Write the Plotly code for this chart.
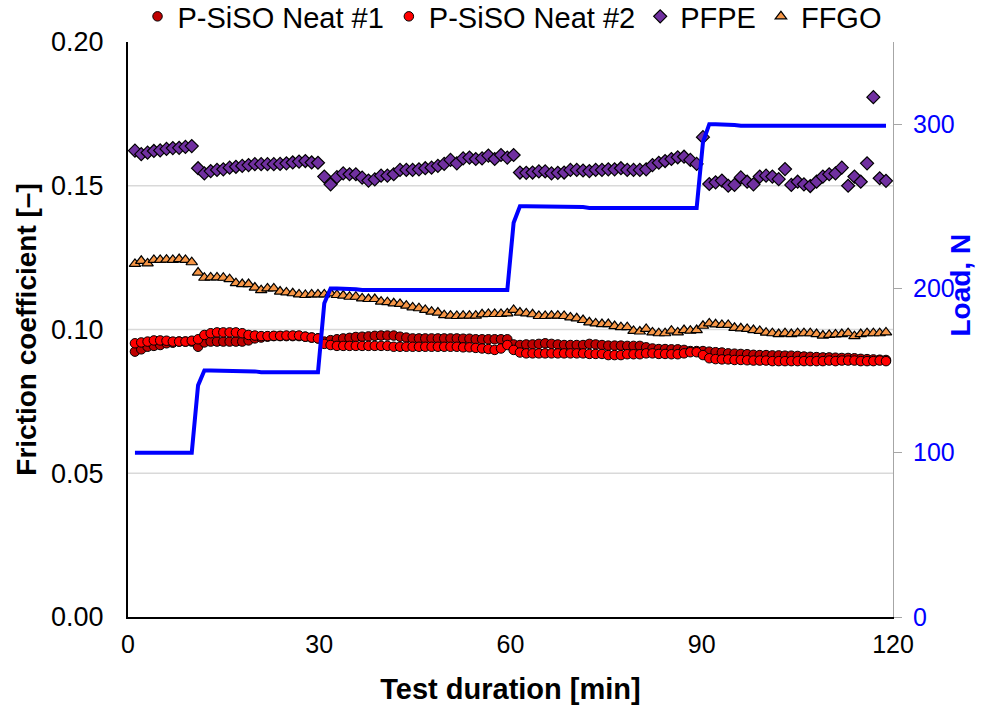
import plotly.graph_objects as go

# Sampling times (min) - one reading every ~0.99 min
time_min = [round(0.1 + 0.99 * k, 2) for k in range(1, 121)]

neat1 = [
    0.0923, 0.0931, 0.0940, 0.0943, 0.0946, 0.0952, 0.0954, 0.0958, 0.0958, 0.0958,
    0.0940, 0.0955, 0.0958, 0.0958, 0.0958, 0.0958, 0.0958, 0.0958, 0.0962, 0.0969,
    0.0972, 0.0975, 0.0977, 0.0977, 0.0977, 0.0977, 0.0977, 0.0975, 0.0972, 0.0969,
    0.0958, 0.0963, 0.0966, 0.0969, 0.0971, 0.0974, 0.0975, 0.0976, 0.0978, 0.0979,
    0.0979, 0.0979, 0.0975, 0.0972, 0.0969, 0.0969, 0.0969, 0.0969, 0.0969, 0.0969,
    0.0969, 0.0969, 0.0968, 0.0968, 0.0966, 0.0966, 0.0966, 0.0966, 0.0966, 0.0966,
    0.0948, 0.0946, 0.0948, 0.0948, 0.0950, 0.0952, 0.0950, 0.0948, 0.0946, 0.0946,
    0.0946, 0.0946, 0.0950, 0.0948, 0.0946, 0.0944, 0.0944, 0.0944, 0.0943, 0.0943,
    0.0943, 0.0938, 0.0934, 0.0932, 0.0932, 0.0931, 0.0931, 0.0929, 0.0925, 0.0925,
    0.0925, 0.0923, 0.0921, 0.0920, 0.0917, 0.0916, 0.0915, 0.0914, 0.0912, 0.0911,
    0.0911, 0.0910, 0.0910, 0.0909, 0.0909, 0.0908, 0.0906, 0.0905, 0.0904, 0.0903,
    0.0903, 0.0902, 0.0901, 0.0901, 0.0900, 0.0898, 0.0897, 0.0896, 0.0895, 0.0894,
]

neat2 = [
    0.0952, 0.0955, 0.0958, 0.0962, 0.0962, 0.0961, 0.0958, 0.0958, 0.0958, 0.0961,
    0.0966, 0.0981, 0.0987, 0.0990, 0.0990, 0.0990, 0.0990, 0.0987, 0.0981, 0.0979,
    0.0977, 0.0977, 0.0978, 0.0978, 0.0979, 0.0979, 0.0979, 0.0975, 0.0972, 0.0969,
    0.0950, 0.0946, 0.0943, 0.0943, 0.0943, 0.0943, 0.0943, 0.0943, 0.0943, 0.0943,
    0.0943, 0.0940, 0.0940, 0.0940, 0.0940, 0.0940, 0.0940, 0.0940, 0.0940, 0.0940,
    0.0940, 0.0940, 0.0938, 0.0938, 0.0936, 0.0934, 0.0932, 0.0929, 0.0934, 0.0946,
    0.0929, 0.0920, 0.0917, 0.0917, 0.0917, 0.0917, 0.0917, 0.0917, 0.0917, 0.0917,
    0.0917, 0.0917, 0.0915, 0.0915, 0.0915, 0.0911, 0.0911, 0.0911, 0.0914, 0.0914,
    0.0914, 0.0917, 0.0917, 0.0915, 0.0915, 0.0914, 0.0914, 0.0917, 0.0921, 0.0921,
    0.0911, 0.0900, 0.0897, 0.0896, 0.0896, 0.0894, 0.0894, 0.0893, 0.0892, 0.0892,
    0.0892, 0.0890, 0.0890, 0.0890, 0.0890, 0.0890, 0.0890, 0.0890, 0.0890, 0.0890,
    0.0892, 0.0890, 0.0892, 0.0892, 0.0892, 0.0890, 0.0890, 0.0890, 0.0892, 0.0890,
]

pfpe = [
    0.1622, 0.1610, 0.1615, 0.1621, 0.1623, 0.1628, 0.1631, 0.1632, 0.1635, 0.1638,
    0.1561, 0.1543, 0.1551, 0.1555, 0.1557, 0.1563, 0.1566, 0.1569, 0.1572, 0.1575,
    0.1575, 0.1575, 0.1575, 0.1576, 0.1578, 0.1581, 0.1584, 0.1586, 0.1581, 0.1580,
    0.1532, 0.1505, 0.1530, 0.1543, 0.1540, 0.1540, 0.1528, 0.1518, 0.1522, 0.1535,
    0.1535, 0.1540, 0.1555, 0.1555, 0.1555, 0.1557, 0.1561, 0.1563, 0.1569, 0.1576,
    0.1590, 0.1578, 0.1595, 0.1598, 0.1593, 0.1595, 0.1605, 0.1593, 0.1607, 0.1598,
    0.1607, 0.1546, 0.1545, 0.1546, 0.1550, 0.1550, 0.1543, 0.1545, 0.1546, 0.1555,
    0.1555, 0.1553, 0.1551, 0.1555, 0.1555, 0.1557, 0.1557, 0.1561, 0.1555, 0.1555,
    0.1555, 0.1557, 0.1572, 0.1580, 0.1586, 0.1593, 0.1599, 0.1601, 0.1590, 0.1576,
    0.1669, 0.1506, 0.1512, 0.1518, 0.1500, 0.1503, 0.1529, 0.1514, 0.1505, 0.1532,
    0.1535, 0.1532, 0.1523, 0.1558, 0.1503, 0.1514, 0.1505, 0.1499, 0.1514, 0.1532,
    0.1540, 0.1543, 0.1563, 0.1500, 0.1532, 0.1514, 0.1578, 0.1808, 0.1526, 0.1517,
]

ffgo = [
    0.1228, 0.1239, 0.1230, 0.1242, 0.1242, 0.1243, 0.1242, 0.1245, 0.1242, 0.1234,
    0.1198, 0.1180, 0.1181, 0.1181, 0.1180, 0.1175, 0.1161, 0.1158, 0.1158, 0.1146,
    0.1137, 0.1143, 0.1143, 0.1132, 0.1129, 0.1126, 0.1122, 0.1120, 0.1122, 0.1122,
    0.1122, 0.1126, 0.1120, 0.1118, 0.1114, 0.1114, 0.1108, 0.1106, 0.1106, 0.1097,
    0.1095, 0.1091, 0.1089, 0.1083, 0.1077, 0.1074, 0.1068, 0.1062, 0.1059, 0.1050,
    0.1048, 0.1047, 0.1048, 0.1048, 0.1048, 0.1053, 0.1054, 0.1054, 0.1054, 0.1056,
    0.1068, 0.1059, 0.1056, 0.1053, 0.1047, 0.1047, 0.1048, 0.1048, 0.1047, 0.1042,
    0.1039, 0.1033, 0.1025, 0.1021, 0.1019, 0.1019, 0.1012, 0.1008, 0.1008, 0.0995,
    0.0993, 0.1002, 0.0990, 0.0987, 0.0987, 0.0996, 0.0990, 0.0998, 0.0996, 0.0998,
    0.1013, 0.1021, 0.1018, 0.1016, 0.1016, 0.1006, 0.1004, 0.1002, 0.0998, 0.0995,
    0.0989, 0.0987, 0.0984, 0.0987, 0.0984, 0.0987, 0.0987, 0.0987, 0.0984, 0.0979,
    0.0981, 0.0983, 0.0984, 0.0987, 0.0977, 0.0984, 0.0987, 0.0987, 0.0987, 0.0990,
]

load_n = [
    100, 100, 100, 100, 100, 100, 100, 100, 100, 100,
    141, 150, 150, 150, 150, 150, 150, 150, 150, 149.5,
    149, 149, 149, 149, 149, 149, 149, 149, 149, 149,
    191, 200, 200, 200, 200, 199.5, 199, 199, 199, 199,
    199, 199, 199, 199, 199, 199, 199, 199, 199, 199,
    199, 199, 199, 199, 199, 199, 199, 199, 199, 199,
    240, 250, 250, 250, 250, 250, 250, 250, 250, 250,
    250, 249.5, 249, 249, 249, 249, 249, 249, 249, 249,
    249, 249, 249, 249, 249, 249, 249, 249, 249, 249,
    289, 300, 300, 300, 300, 299.5, 299, 299, 299, 299,
    299, 299, 299, 299, 299, 299, 299, 299, 299, 299,
    299, 299, 299, 299, 299, 299, 299, 299, 299, 299,
]

x_ticks = [0, 30, 60, 90, 120]
y_ticks = [0.00, 0.05, 0.10, 0.15, 0.20]
y2_ticks = [0, 100, 200, 300]
grid_vals = [0.05, 0.10, 0.15]

FONT = "Liberation Sans, Arial, sans-serif"

fig = go.Figure()
fig.add_trace(go.Scatter(
    x=time_min, y=neat1, mode="markers", name="P-SiSO Neat #1",
    marker=dict(symbol="circle", size=9.5, color="#C00000", line=dict(color="black", width=1))))
fig.add_trace(go.Scatter(
    x=time_min, y=neat2, mode="markers", name="P-SiSO Neat #2",
    marker=dict(symbol="circle", size=9.5, color="#FF0000", line=dict(color="black", width=1))))
fig.add_trace(go.Scatter(
    x=time_min, y=pfpe, mode="markers", name="PFPE",
    marker=dict(symbol="diamond", size=10, color="#7030A0", line=dict(color="black", width=1.2))))
fig.add_trace(go.Scatter(
    x=time_min, y=ffgo, mode="markers", name="FFGO",
    marker=dict(symbol="triangle-up", size=10, color="#F79646", line=dict(color="black", width=1.2))))
fig.add_trace(go.Scatter(
    x=time_min, y=load_n, mode="lines", name="Load", yaxis="y2", showlegend=False,
    line=dict(color="#0000FF", width=4)))

for g in grid_vals:
    fig.add_shape(type="line", xref="paper", x0=0, x1=1, yref="y", y0=g, y1=g,
                  line=dict(color="#D9D9D9", width=1.5), layer="below")

# right-axis title placed as an annotation (it sits above the axis centre in the reference)
fig.add_annotation(text="<b>Load, N</b>", xref="paper", yref="paper", x=1.088, y=0.577,
                   textangle=-90, showarrow=False, xanchor="center", yanchor="middle",
                   font=dict(color="#0000FF", size=28, family=FONT))

fig.update_layout(
    width=1000, height=713,
    margin=dict(l=128, r=107, t=42, b=96, autoexpand=False),
    paper_bgcolor="white", plot_bgcolor="white",
    font=dict(family=FONT, size=25, color="black"),
    legend=dict(orientation="h", x=0.502, xanchor="center", y=1.0, yanchor="bottom",
                font=dict(size=29), itemwidth=30, bgcolor="rgba(0,0,0,0)"),
    xaxis=dict(range=[0, 120], tickvals=x_ticks, showline=True, linecolor="black", linewidth=2,
               showgrid=False, zeroline=False, ticks="", ticklabelstandoff=4, automargin=False,
               tickfont=dict(size=25),
               title=dict(text="<b>Test duration [min]</b>", font=dict(size=29), standoff=22)),
    yaxis=dict(range=[0, 0.2], tickvals=y_ticks, tickformat=".2f", showline=True, linecolor="black",
               linewidth=2, showgrid=False, zeroline=False, ticks="", ticklabelstandoff=17,
               automargin=False, tickfont=dict(size=27),
               title=dict(text="<b>Friction coefficient [–]</b>", font=dict(size=28), standoff=6)),
    yaxis2=dict(overlaying="y", side="right", range=[0, 350], tickvals=y2_ticks, showline=True,
                linecolor="#A6A6A6", linewidth=1, ticks="outside", ticklen=8, tickcolor="#A6A6A6",
                showgrid=False, zeroline=False, ticklabelstandoff=6, automargin=False,
                tickfont=dict(color="#0000FF", size=25)),
)

fig.write_html("out.html", config={"displayModeBar": False},
               post_script="document.body.style.margin='0';document.body.style.padding='0';")
